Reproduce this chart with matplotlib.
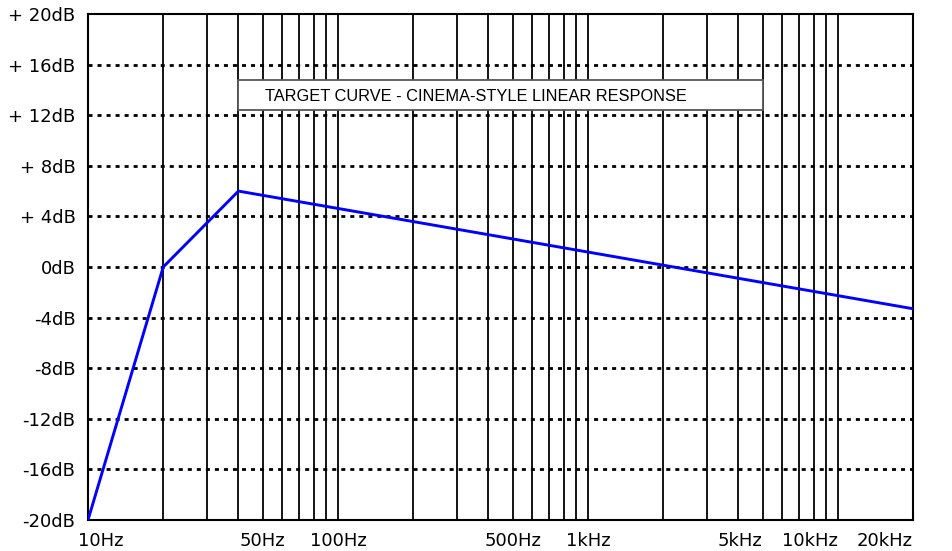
import matplotlib
matplotlib.use("Agg")
import matplotlib.pyplot as plt
import matplotlib.transforms as mtransforms
from matplotlib.patches import Rectangle

# target curve corner points
freqs = [10, 20, 40, 20000]
levels = [-20, 0, 6, -3.3]

y_ticks = [-20, -16, -12, -8, -4, 0, 4, 8, 12, 16, 20]
y_labels = ["-20dB", "-16dB", "-12dB", "-8dB", "-4dB", "0dB",
            "+ 4dB", "+ 8dB", "+ 12dB", "+ 16dB", "+ 20dB"]
x_ticks = [10, 50, 100, 500, 1000, 5000, 10000, 20000]
x_labels = ["10Hz", "50Hz", "100Hz", "500Hz", "1kHz", "5kHz", "10kHz", "20kHz"]
x_align = ["left", "center", "center", "center", "center", "right", "right", "right"]

title = "TARGET CURVE - CINEMA-STYLE LINEAR RESPONSE"

plt.rcParams['font.family'] = ['DejaVu Sans']

fig = plt.figure(figsize=(9.53, 5.51), dpi=100)
ax = fig.add_axes([88 / 953, 31 / 551, 825 / 953, 506 / 551])

ax.set_xscale('log')
ax.set_xlim(10, 20000)
ax.set_ylim(-20, 20)

# vertical grid on every decade step
for dec in [10, 100, 1000, 10000]:
    for m in range(1, 10):
        f = dec * m
        if 10 < f < 20000:
            ax.axvline(f, color='black', lw=1.3, zorder=1)

# horizontal dotted grid
for y in y_ticks[1:-1]:
    ax.axhline(y, color='black', lw=2, linestyle=(0, (1.45, 1.8)), zorder=1)

ax.plot(freqs, levels, color='#0000ff', lw=2.1, zorder=3)

# caption box
ax.add_patch(Rectangle((40, 12.4), 5000 - 40, 2.4, facecolor='white',
                       edgecolor='#555555', lw=1.3, zorder=2))
ax.text(10 ** ((1.602 + 3.699) / 2 - 0.1), 13.5, title, ha='center', va='center',
        fontsize=11.8, family='Liberation Sans', zorder=4)

ax.set_yticks(y_ticks)
ax.set_yticklabels(y_labels, fontsize=13)
ax.set_xticks(x_ticks)
ax.set_xticklabels(x_labels, fontsize=13)
ax.minorticks_off()
ax.tick_params(length=0, pad=9)
for lab, ha in zip(ax.get_xticklabels(), x_align):
    lab.set_ha(ha)

# nudge the first label a bit left, like the original
shift = mtransforms.ScaledTranslation(-10 / 100, 0, fig.dpi_scale_trans)
first = ax.get_xticklabels()[0]
first.set_transform(first.get_transform() + shift)

for s in ax.spines.values():
    s.set_linewidth(1.5)

fig.savefig("out.png", dpi=100)
